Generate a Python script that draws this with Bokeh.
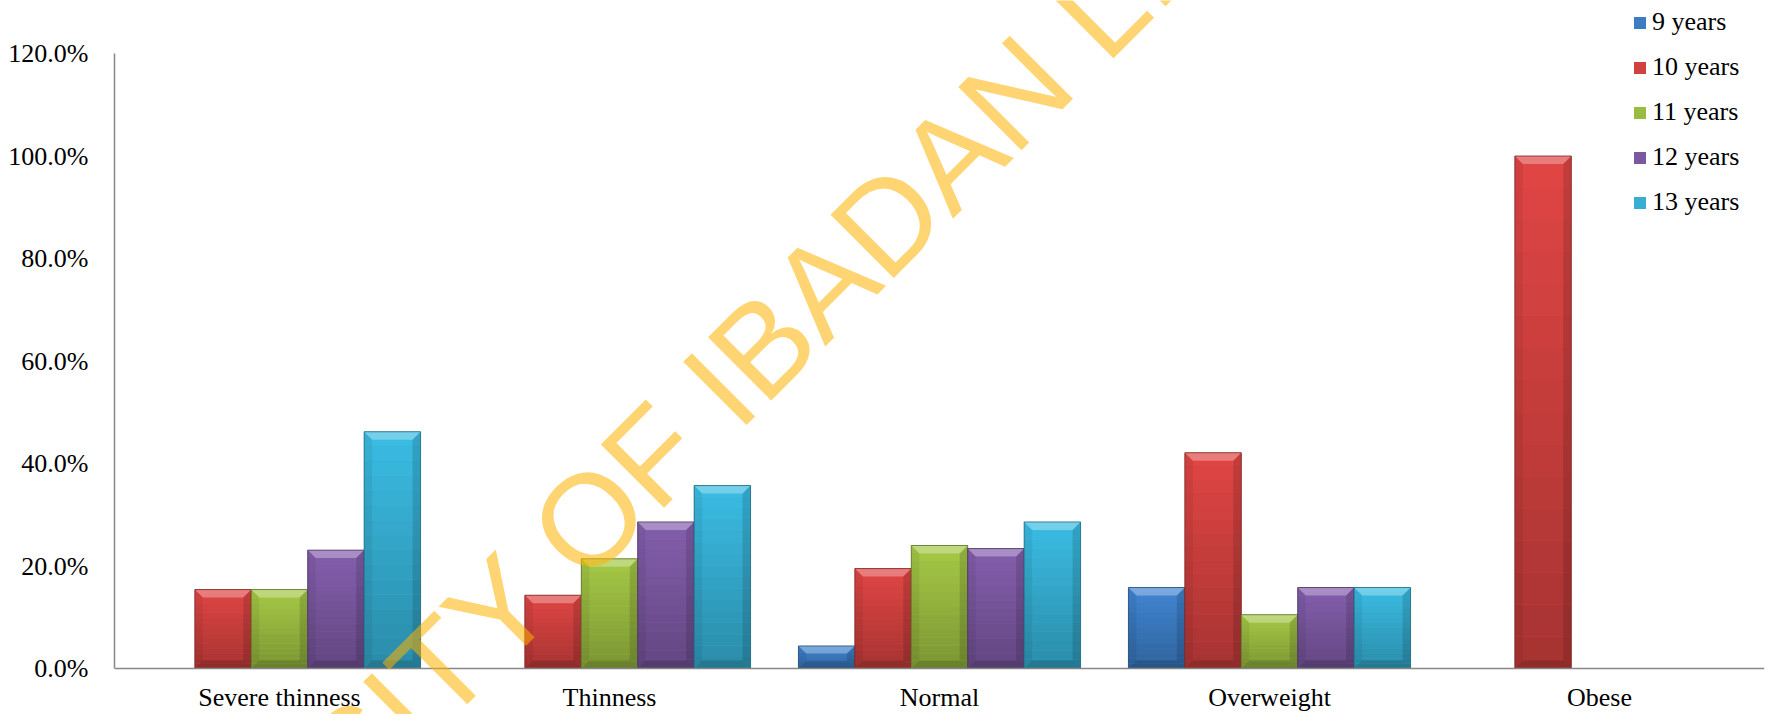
import numpy as np
from bokeh.plotting import figure
from bokeh.models import Range1d, FixedTicker, Label, Legend, LegendItem, LinearAxis
from bokeh.embed import file_html
from bokeh.resources import INLINE

# BMI-for-age categories and the share (%) of each age group in them
categories = ["Severe thinness", "Thinness", "Normal", "Overweight", "Obese"]
series = ["9 years", "10 years", "11 years", "12 years", "13 years"]
age_9 = [0.0, 0.0, 4.4, 15.8, 0.0]
age_10 = [15.4, 14.3, 19.5, 42.1, 100.0]
age_11 = [15.4, 21.4, 24.0, 10.5, 0.0]
age_12 = [23.1, 28.6, 23.4, 15.8, 0.0]
age_13 = [46.2, 35.7, 28.6, 15.8, 0.0]
y_ticks = [0, 20, 40, 60, 80, 100, 120]

values = [age_9, age_10, age_11, age_12, age_13]
colors = ["#3C7CC3", "#D0413F", "#9ABB41", "#7B58A1", "#36AFD3"]

# canvas / frame geometry (pixels); the frame spans the full height so the
# diagonal watermark is not cut at the category axis
W, H = 1772, 714
B_LEFT, B_RIGHT = 114, 8
frame_w = W - B_LEFT - B_RIGHT
zero_px = 668          # canvas row of the 0 % baseline
y_top_px = 615         # pixel height of the 0..120 span
px_y = 120.0 / y_top_px
y_start = -(H - zero_px) * px_y
y_end = zero_px * px_y
n_cat = len(categories)
px_x = n_cat / frame_w

p = figure(width=W, height=H, output_backend="svg", toolbar_location=None,
           x_range=Range1d(0, n_cat), y_range=Range1d(y_start, y_end),
           x_axis_location=None,
           min_border_left=B_LEFT, min_border_right=B_RIGHT,
           min_border_top=0, min_border_bottom=0)
p.outline_line_color = None
p.xgrid.visible = False
p.ygrid.visible = False
p.background_fill_color = "white"
p.border_fill_color = "white"


def shade(hex_color, f):
    r, g, b = (int(hex_color[i:i + 2], 16) for i in (1, 3, 5))
    return "#%02x%02x%02x" % tuple(int(max(0, min(255, c * f))) for c in (r, g, b))


bar_w = 0.171
bev_x = 8 * px_x
bev_y = 8 * px_y
n_slices = 16
legend_items = []

for j, (name, vals, col) in enumerate(zip(series, values, colors)):
    xs = [i + 0.5 + (j - 2) * bar_w for i in range(n_cat)]
    keep = [k for k, v in enumerate(vals) if v > 0]
    bx = np.array([xs[k] for k in keep])
    bv = np.array([vals[k] for k in keep])

    base = p.vbar(x=bx, top=bv, bottom=0, width=bar_w, fill_color=col,
                  line_color=None)
    legend_items.append(LegendItem(label=name, renderers=[base]))

    # vertical light-to-dark shading
    for s in range(n_slices):
        t = (s + 0.5) / n_slices
        p.vbar(x=bx, bottom=bv * s / n_slices, top=bv * (s + 1) / n_slices,
               width=bar_w, fill_color=shade(col, 0.80 + 0.28 * t),
               line_color=None)

    # bevelled edges
    left = bx - bar_w / 2
    right = bx + bar_w / 2
    top_xs, top_ys, r_xs, r_ys, l_xs, l_ys, b_xs, b_ys = ([] for _ in range(8))
    for lx, rx, v in zip(left, right, bv):
        by = min(bev_y, v / 3)
        top_xs.append([lx, rx, rx - bev_x, lx + bev_x])
        top_ys.append([v, v, v - by, v - by])
        r_xs.append([rx, rx, rx - bev_x, rx - bev_x])
        r_ys.append([v, 0, by, v - by])
        l_xs.append([lx, lx, lx + bev_x, lx + bev_x])
        l_ys.append([v, 0, by, v - by])
        b_xs.append([lx, rx, rx - bev_x, lx + bev_x])
        b_ys.append([0, 0, by, by])
    p.patches(top_xs, top_ys, fill_color="white", fill_alpha=0.30, line_color=None)
    p.patches(r_xs, r_ys, fill_color="black", fill_alpha=0.13, line_color=None)
    p.patches(l_xs, l_ys, fill_color="black", fill_alpha=0.06, line_color=None)
    p.patches(b_xs, b_ys, fill_color="black", fill_alpha=0.15, line_color=None)
    p.vbar(x=bx, top=bv, bottom=0, width=bar_w, fill_color=None,
           line_color=shade(col, 0.6), line_width=1, line_alpha=0.8)

# category axis pinned at the 0 % line
xaxis = LinearAxis(fixed_location=0,
                   ticker=FixedTicker(ticks=[i + 0.5 for i in range(n_cat)]),
                   major_label_overrides={i + 0.5: c for i, c in enumerate(categories)})
p.add_layout(xaxis, "below")

p.yaxis.ticker = FixedTicker(ticks=y_ticks)
p.yaxis.major_label_overrides = {t: f"{t:.1f}%" for t in y_ticks}
p.yaxis.bounds = (0, 120)
for ax in (xaxis, p.yaxis[0]):
    ax.axis_line_color = "#878787"
    ax.axis_line_width = 1.5
    ax.major_tick_in = 0
    ax.major_tick_out = 0
    ax.minor_tick_line_color = None
    ax.major_label_text_font = "Liberation Serif"
    ax.major_label_text_font_size = "26px"
    ax.major_label_text_color = "black"
xaxis.major_label_standoff = 14
p.yaxis.major_label_standoff = 26

legend = Legend(items=legend_items, location=(1632 - B_LEFT, H - 217),
                label_text_font="Liberation Serif", label_text_font_size="26px",
                label_text_color="black", glyph_width=15, glyph_height=15,
                label_standoff=5, spacing=15, padding=0, margin=0,
                border_line_color=None, background_fill_alpha=0)
p.add_layout(legend)

# diagonal library watermark
wm = Label(x=722 - B_LEFT, y=H - 385, x_units="screen", y_units="screen",
           text="UNIVERSITY OF IBADAN LIBRARY", angle=45, angle_units="deg",
           text_font="Liberation Sans", text_font_size="130px",
           text_color="#FFB300", text_alpha=0.55,
           text_align="center", text_baseline="alphabetic")
p.add_layout(wm)

open("out.html", "w").write(file_html(p, INLINE))
